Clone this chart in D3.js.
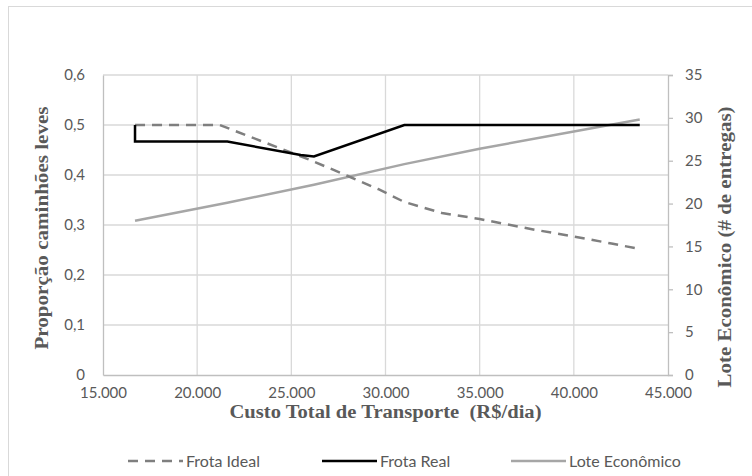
<!DOCTYPE html>
<html><head><meta charset="utf-8">
<script src="https://cdn.jsdelivr.net/npm/d3@7"></script>
<style>
body{margin:0;background:#fff;}
svg text{font-family:Lato,"Liberation Sans",sans-serif;fill:#595959;}
.ttl{font-family:"Liberation Serif","Times New Roman",serif;font-weight:bold;}
</style></head><body>
<svg id="c" width="752" height="476"></svg>
<script>
const xTicks=[15000,20000,25000,30000,35000,40000,45000];
const yLeftTicks=[0,0.1,0.2,0.3,0.4,0.5,0.6];
const yRightTicks=[0,5,10,15,20,25,30,35];
const idealCost=[16700,21200,26000,28000,29600,31000,33000,35000,38000,40000,42000,43500];
const idealVal=[0.5,0.5,0.43,0.398,0.372,0.346,0.324,0.312,0.29,0.277,0.263,0.252];
const realCost=[16700,16700,21600,25500,26200,31000,43500];
const realVal=[0.5,0.467,0.467,0.44,0.437,0.5,0.5];
const loteCost=[16700,21600,26200,31000,35000,40000,43500];
const loteVal=[18.0,20.1,22.2,24.6,26.4,28.4,29.8];
const seriesNames=["Frota Ideal","Frota Real","Lote Econômico"];

const svg=d3.select("#c");
svg.append("rect").attr("x",8.5).attr("y",6.5).attr("width",800).attr("height",500)
  .attr("fill","none").attr("stroke","#d9d9d9");
const L=103,R=668,T=75,B=375;
const x=d3.scaleLinear().domain([15000,45000]).range([L,R]);
const yL=d3.scaleLinear().domain([0,0.6]).range([B,T]);
const yR=d3.scaleLinear().domain([0,35]).range([B,T]);
const fmtX=d=>d3.format(",")(d).replace(/,/g,".");
const fmtL=d=>d===0?"0":d3.format(".1f")(d).replace(".",",");

// gridlines
const g=svg.append("g");
g.selectAll(".hg").data(yLeftTicks.filter(d=>d>0)).join("line")
 .attr("x1",L).attr("x2",R).attr("y1",d=>yL(d)).attr("y2",d=>yL(d))
 .attr("stroke","#d9d9d9").attr("stroke-width",1.3);
g.selectAll(".vg").data(xTicks.filter(d=>d>15000&&d<45000)).join("line")
 .attr("y1",T).attr("y2",B).attr("x1",d=>x(d)).attr("x2",d=>x(d))
 .attr("stroke","#d9d9d9").attr("stroke-width",1.3);

// axes
const axL=svg.append("g").attr("transform",`translate(${L},0)`)
 .call(d3.axisLeft(yL).tickValues(yLeftTicks).tickFormat(fmtL).tickSize(0).tickPadding(18));
const axB=svg.append("g").attr("transform",`translate(0,${B})`)
 .call(d3.axisBottom(x).tickValues(xTicks).tickFormat(fmtX).tickSize(0).tickPadding(12));
const axR=svg.append("g").attr("transform",`translate(${R},0)`)
 .call(d3.axisRight(yR).tickValues(yRightTicks).tickSize(5).tickPadding(12));
[axL,axB,axR].forEach(a=>{
  a.select(".domain").attr("stroke","#bfbfbf").attr("stroke-width",1.3);
  a.selectAll(".tick line").attr("stroke","#bfbfbf").attr("stroke-width",1.3);
  a.selectAll("text").style("font-size","15px").attr("fill","#595959");
});

// lines
const mk=(xs,ys,ysc)=>d3.line().x((d,i)=>x(xs[i])).y((d,i)=>ysc(ys[i]))(xs);
svg.append("path").attr("d",mk(loteCost,loteVal,yR)).attr("fill","none")
 .attr("stroke","#a6a6a6").attr("stroke-width",2.5);
svg.append("path").attr("d",mk(idealCost,idealVal,yL)).attr("fill","none")
 .attr("stroke","#7f7f7f").attr("stroke-width",2.5).attr("stroke-dasharray","10,7");
svg.append("path").attr("d",mk(realCost,realVal,yL)).attr("fill","none")
 .attr("stroke","#000").attr("stroke-width",2.5).attr("stroke-linejoin","miter");

// titles
svg.append("text").attr("class","ttl").attr("transform","translate(48,228) rotate(-90)")
 .attr("text-anchor","middle").style("font-size","18px")
 .attr("textLength",243).attr("lengthAdjust","spacingAndGlyphs").text("Proporção caminhões leves");
svg.append("text").attr("class","ttl").attr("transform","translate(731,247) rotate(-90)")
 .attr("text-anchor","middle").style("font-size","18px")
 .attr("textLength",281).attr("lengthAdjust","spacingAndGlyphs").text("Lote Econômico (# de entregas)");
svg.append("text").attr("class","ttl").attr("x",(L+R)/2).attr("y",418)
 .attr("text-anchor","middle").style("font-size","18px").style("white-space","pre")
 .attr("textLength",312).attr("lengthAdjust","spacingAndGlyphs")
 .text("Custo Total de Transporte  (R$/dia)");

// legend
const leg=[{n:seriesNames[0],c:"#7f7f7f",d:"10,7",x:128},{n:seriesNames[1],c:"#000",d:null,x:322},{n:seriesNames[2],c:"#a6a6a6",d:null,x:511}];
const lg=svg.selectAll(".lg").data(leg).join("g");
lg.append("line").attr("x1",d=>d.x).attr("x2",d=>d.x+55).attr("y1",461).attr("y2",461)
 .attr("stroke",d=>d.c).attr("stroke-width",2.5).attr("stroke-dasharray",d=>d.d);
lg.append("text").attr("x",d=>d.x+58).attr("y",467).style("font-size","16px").text(d=>d.n);
</script></body></html>
